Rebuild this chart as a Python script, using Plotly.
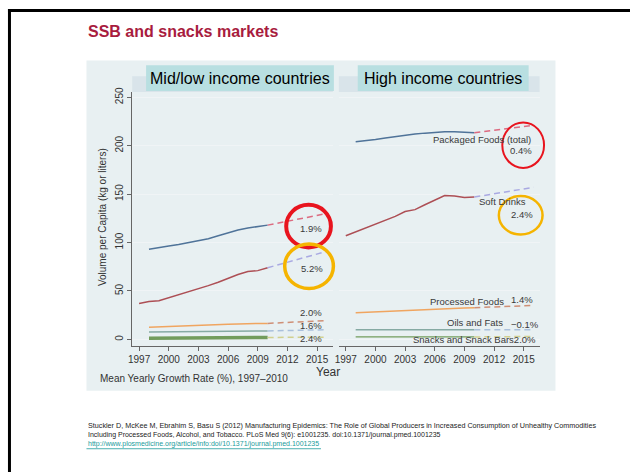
import plotly.graph_objects as go

W, H = 630, 472

# ---------------- data ----------------
years = list(range(1997, 2011))
proj_years = [2010, 2016]
x_ticks = [1997, 2000, 2003, 2006, 2009, 2012, 2015]
y_ticks = [0, 50, 100, 150, 200, 250]

# Mid/low income countries
ml_packaged = [None, 93, 95, 96.5, 98, 100, 102, 104, 107, 110, 113, 115, 116.5, 118]
ml_soft = [37, 39, 40, 43, 46, 49, 52, 55.5, 59, 63, 67, 70, 71, 74]
ml_processed = [None, 12.5, 12.8, 13.2, 13.6, 14, 14.4, 14.8, 15.2, 15.6, 16, 16.2, 16.3, 16.5]
ml_oils = [None, 7.5, 7.6, 7.7, 7.8, 7.9, 8, 8.1, 8.2, 8.3, 8.4, 8.5, 8.6, 8.7]
ml_snacks = [None, 1.2, 1.3, 1.35, 1.4, 1.5, 1.55, 1.6, 1.7, 1.75, 1.8, 1.9, 1.95, 2.0]
ml_proj = {
    "packaged": [118, 130],
    "soft": [74, 91],
    "processed": [16.5, 19.5],
    "oils": [8.7, 10],
    "snacks": [2.0, 2.3],
}
ml_growth = {"packaged": "1.9%", "soft": "5.2%", "processed": "2.0%", "oils": "1.6%", "snacks": "2.4%"}

# High income countries
hi_packaged = [None, 204, 205, 206.5, 208, 209.5, 211, 212, 213, 214, 214.5, 214.5, 214, 213.5]
hi_soft = [107, 111, 115, 119, 123, 127, 132, 134, 139, 144, 148.5, 148, 146.5, 147]
hi_processed = [None, 27.5, 28, 28.5, 29, 29.5, 30, 30.5, 31, 31.5, 32, 32.3, 32.5, 32.7]
hi_oils = [None, 10, 10, 10, 10, 10, 10, 10, 10, 10, 10, 10, 10, 10]
hi_snacks = [None, 2.5, 2.5, 2.5, 2.5, 2.5, 2.5, 2.5, 2.5, 2.5, 2.5, 2.5, 2.5, 2.5]
hi_proj = {
    "packaged": [213.5, 221],
    "soft": [147, 157],
    "processed": [32.7, 35],
    "oils": [10, 10],
    "snacks": [2.5, 3],
}
hi_names = {
    "packaged": "Packaged Foods (total)",
    "soft": "Soft Drinks",
    "processed": "Processed Foods",
    "oils": "Oils and Fats",
    "snacks": "Snacks and Snack Bars",
}
hi_growth = {"packaged": "0.4%", "soft": "2.4%", "processed": "1.4%", "oils": "\u22120.1%", "snacks": "2.0%"}

panel_titles = ["Mid/low income countries", "High income countries"]

# ---------------- styles ----------------
FONT = "Liberation Sans, Arial, sans-serif"
hist_col = {"packaged": "#4f7399", "soft": "#ad4f55", "processed": "#f0a560",
            "oils": "#86aaa3", "snacks": "#729c5c"}
proj_col = {"packaged": "#dc6b80", "soft": "#a9a9e2", "processed": "#cf8f76",
            "oils": "#aac0dc", "snacks": "#d2d08f"}


def fx(px):
    return px / W


def fy(py):
    return 1 - py / H


fig = go.Figure()

series_ml = {"packaged": ml_packaged, "soft": ml_soft, "processed": ml_processed,
             "oils": ml_oils, "snacks": ml_snacks}
series_hi = {"packaged": hi_packaged, "soft": hi_soft, "processed": hi_processed,
             "oils": hi_oils, "snacks": hi_snacks}

for xa, series, proj in [("x", series_ml, ml_proj), ("x2", series_hi, hi_proj)]:
    for key, vals in series.items():
        w = 1.5
        if key == "snacks" and xa == "x":
            w = 3.5
        if key == "snacks" and xa == "x2":
            w = 1.2
        fig.add_trace(go.Scatter(x=years, y=vals, mode="lines", xaxis=xa, yaxis="y",
                                 line=dict(color=hist_col[key], width=w),
                                 showlegend=False, hoverinfo="skip"))
        fig.add_trace(go.Scatter(x=proj_years, y=proj[key], mode="lines", xaxis=xa, yaxis="y",
                                 line=dict(color=proj_col[key], width=1.5, dash="6px,4px"),
                                 showlegend=False, hoverinfo="skip"))

# ---------------- layout ----------------
PX_L1, PX_R1 = 129, 331
PX_L2, PX_R2 = 337, 539
PY_T, PY_B = 88, 345
xrange_ = [1996.3, 2016.6]
yrange_ = [-7.2, 255.4]

axis_common = dict(range=xrange_, tickvals=x_ticks, ticks="outside", ticklen=4,
                   tickcolor="#666", showline=True, linecolor="#666", linewidth=1,
                   showgrid=False, zeroline=False,
                   tickfont=dict(family=FONT, size=10, color="#333"))

fig.update_layout(
    width=W, height=H,
    margin=dict(l=0, r=0, t=0, b=0),
    paper_bgcolor="white",
    plot_bgcolor="white",
    xaxis=dict(domain=[fx(PX_L1), fx(PX_R1)], anchor="y", **axis_common),
    xaxis2=dict(domain=[fx(PX_L2), fx(PX_R2)], anchor="y", **axis_common),
    yaxis=dict(domain=[fy(PY_B), fy(PY_T)], range=yrange_, tickvals=y_ticks,
               ticks="outside", ticklen=4, tickcolor="#666", tickangle=-90,
               showline=True, linecolor="#666", linewidth=1,
               showgrid=True, gridcolor="#f0f4f6", zeroline=False,
               tickfont=dict(family=FONT, size=10, color="#333")),
)

shapes = []
# slide borders
shapes.append(dict(type="line", xref="paper", yref="paper", x0=fx(5.5), x1=fx(5.5),
                   y0=0, y1=fy(4), line=dict(color="black", width=3)))
shapes.append(dict(type="line", xref="paper", yref="paper", x0=fx(4), x1=1,
                   y0=fy(5.5), y1=fy(5.5), line=dict(color="black", width=3)))
# chart background
shapes.append(dict(type="rect", xref="paper", yref="paper", layer="below",
                   x0=fx(83), x1=fx(555), y0=fy(390), y1=fy(56),
                   fillcolor="#e8f0f2", line=dict(width=0)))
# header strips
for l, r in [(PX_L1, PX_R1), (PX_L2, PX_R2)]:
    shapes.append(dict(type="rect", xref="paper", yref="paper", layer="below",
                       x0=fx(l), x1=fx(r), y0=fy(PY_T), y1=fy(72),
                       fillcolor="#d9e4ea", line=dict(width=0)))
# teal title boxes
boxes = [(143, 332), (356, 528)]
for (l, r) in boxes:
    shapes.append(dict(type="rect", xref="paper", yref="paper",
                       x0=fx(l), x1=fx(r), y0=fy(87), y1=fy(61),
                       fillcolor="#b8dfe1", line=dict(width=0)))
# highlight circles (cx, cy, rx, ry, color, width)
circles = [
    (306.5, 223.5, 22.5, 21.5, "#e8141e", 4),
    (307, 264, 24.5, 22.5, "#f5b400", 3.5),
    (522.5, 141.7, 21, 23, "#e8141e", 2),
    (520, 212.5, 22, 19.5, "#f5b400", 2.5),
]
for cx, cy, rx, ry, col, lw in circles:
    shapes.append(dict(type="circle", xref="paper", yref="paper",
                       x0=fx(cx - rx), x1=fx(cx + rx), y0=fy(cy + ry), y1=fy(cy - ry),
                       line=dict(color=col, width=lw), fillcolor="rgba(0,0,0,0)"))
fig.update_layout(shapes=shapes)

ann = []


def text(px, py, s, size=9.5, color="#3a3a3a", xanchor="center", **kw):
    ann.append(dict(x=fx(px), y=fy(py), xref="paper", yref="paper", text=s,
                    showarrow=False, xanchor=xanchor, yanchor="middle",
                    font=dict(family=FONT, size=size, color=color), **kw))


# slide title
text(83, 27, "<b>SSB and snacks markets</b>", size=16, color="#a81c3e", xanchor="left")
# panel titles
text((143 + 332) / 2, 74.5, panel_titles[0], size=16, color="black")
text((356 + 528) / 2, 74.5, panel_titles[1], size=16, color="black")
# axis titles
text(99, 214, "Volume per Capita (kg or liters)", size=10, color="#333", textangle=-90)
text(326, 370.5, "Year", size=12, color="#333")
text(95, 377, "Mean Yearly Growth Rate (%), 1997\u20132010", size=10, color="#333", xanchor="left")

# mid/low growth labels
text(308.5, 225.5, ml_growth["packaged"])
text(310, 266, ml_growth["soft"])
text(308.5, 311, ml_growth["processed"])
text(308.5, 323.5, ml_growth["oils"])
text(308.5, 337, ml_growth["snacks"])

# high income labels
text(532, 135.5, hi_names["packaged"], xanchor="right")
text(533.5, 147, hi_growth["packaged"], xanchor="right")
text(527, 199, hi_names["soft"], xanchor="right")
text(534, 212, hi_growth["soft"], xanchor="right")
text(505, 299.5, hi_names["processed"], xanchor="right")
text(534, 297.5, hi_growth["processed"], xanchor="right")
text(504.5, 321, hi_names["oils"], xanchor="right")
text(540, 322.5, hi_growth["oils"], xanchor="right")
text(537, 338.5, hi_names["snacks"] + hi_growth["snacks"], xanchor="right")

# citation
cite1 = ("Stuckler D, McKee M, Ebrahim S, Basu S (2012) Manufacturing Epidemics: The Role of Global "
         "Producers in Increased Consumption of Unhealthy Commodities")
cite2 = ("Including Processed Foods, Alcohol, and Tobacco. PLoS Med 9(6): e1001235. "
         "doi:10.1371/journal.pmed.1001235")
cite3 = "http://www.plosmedicine.org/article/info:doi/10.1371/journal.pmed.1001235"
text(83, 425, cite1, size=7.2, color="#222", xanchor="left")
text(83, 434.5, cite2, size=7, color="#222", xanchor="left")
text(83, 444, cite3, size=7, color="#1a9b9b", xanchor="left")

fig.update_layout(annotations=ann)
# underline for link
fig.add_shape(type="line", xref="paper", yref="paper", x0=fx(83), x1=fx(319),
              y0=fy(448.5), y1=fy(448.5), line=dict(color="#1a9b9b", width=0.8))

fig.write_html("out.html",
               config={"displayModeBar": False, "staticPlot": True},
               post_script="document.body.style.margin='0';document.body.style.overflow='hidden';")
